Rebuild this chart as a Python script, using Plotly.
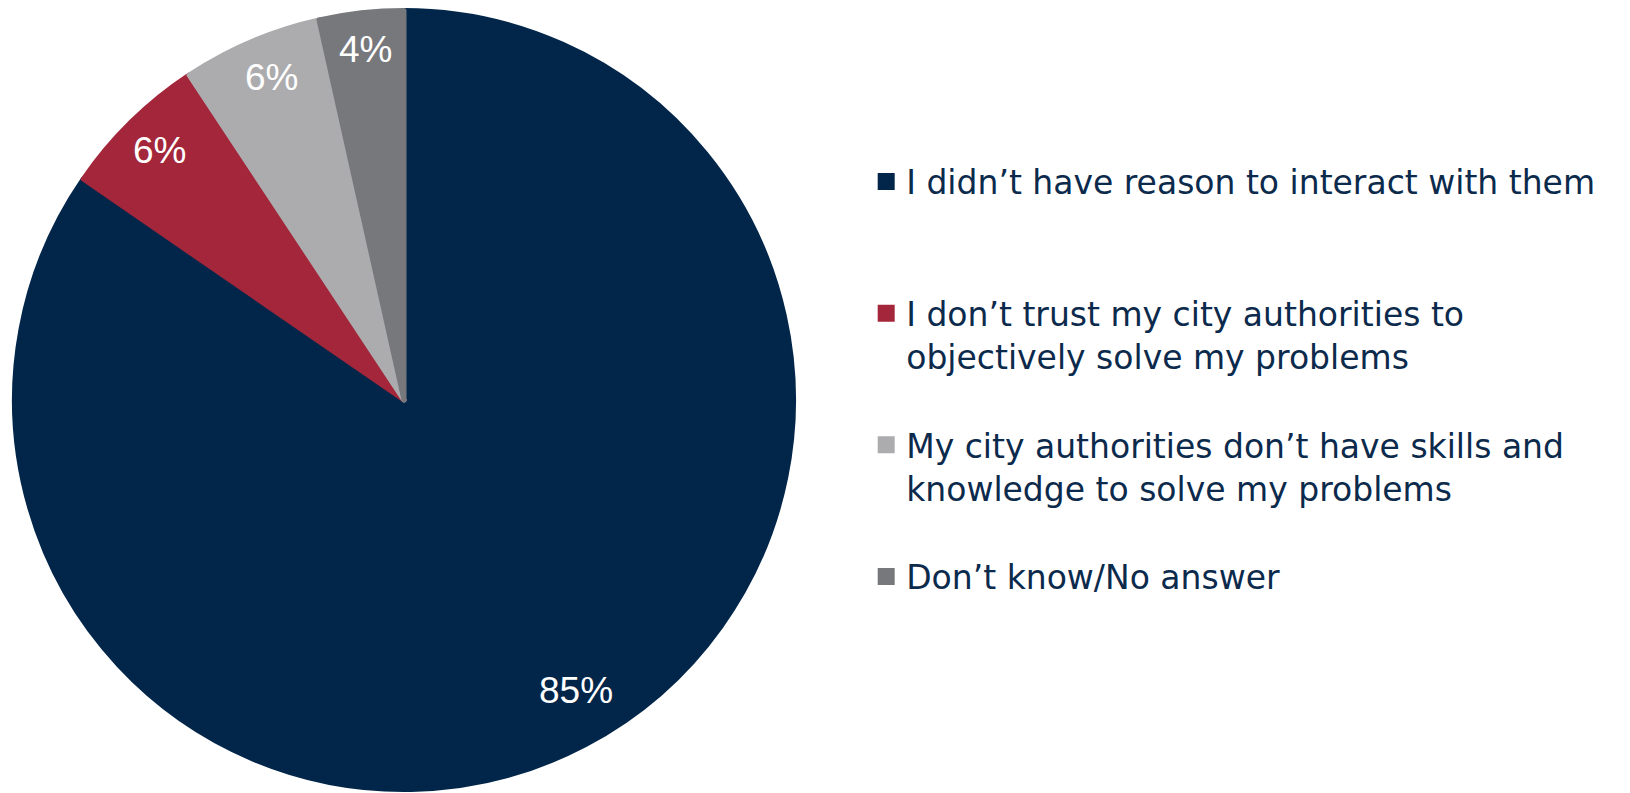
import math
import plotly.graph_objects as go

categories = [
    "I didn’t have reason to interact with them",
    "I don’t trust my city authorities to<br>objectively solve my problems",
    "My city authorities don’t have skills and<br>knowledge to solve my problems",
    "Don’t know/No answer",
]
values = [84.6, 6.1, 5.8, 3.5]
colors = ["#02264a", "#a3263a", "#acacae", "#77787c"]

# layout helpers (not data)
pad = ["<br> <br> ", "<br> ", "<br> ", ""]
label_radius_frac = [0.86, 0.89, 0.89, 0.9]
label_angle_nudge = [-2.9, 0.0, 0.8, 0.0]  # degrees

W, H = 1630, 793
CX, CY_BOTTOM, R = 396, 401, 392  # pie centre (px from left / bottom), outer radius
LW = 5

fig = go.Figure(
    go.Pie(
        labels=[c + p for c, p in zip(categories, pad)],
        values=values,
        sort=False,
        direction="clockwise",
        rotation=0,
        marker=dict(colors=colors, line=dict(width=LW, color=colors)),
        textinfo="none",
        domain=dict(
            x=[(CX - R + LW / 2) / W, (CX + R - LW / 2) / W],
            y=[(CY_BOTTOM - R + LW / 2) / H, (CY_BOTTOM + R - LW / 2) / H],
        ),
        hoverinfo="label+percent",
    )
)

# slice labels on each slice bisector, near the outer edge
total = sum(values)
cum = 0.0
for v, f, nud in zip(values, label_radius_frac, label_angle_nudge):
    mid = (cum + v / 2) / total * 2 * math.pi + math.radians(nud)
    cum += v
    px = CX + f * R * math.sin(mid)
    py = CY_BOTTOM + f * R * math.cos(mid)
    fig.add_annotation(
        x=px / W, y=py / H, xref="paper", yref="paper",
        text=f"{v:.0f}%", showarrow=False,
        xanchor="center", yanchor="middle",
        font=dict(color="white", size=37, family="Liberation Sans, Arial"),
    )

fig.update_layout(
    width=W,
    height=H,
    margin=dict(l=0, r=0, t=0, b=0),
    paper_bgcolor="white",
    plot_bgcolor="white",
    showlegend=True,
    legend=dict(
        x=0.5265,
        xanchor="left",
        y=0.8165,
        yanchor="top",
        valign="top",
        font=dict(size=33, color="#0c2a4c", family="DejaVu Sans, Liberation Sans, Arial"),
        bgcolor="rgba(0,0,0,0)",
        traceorder="normal",
    ),
)

fig.write_html("out.html")
